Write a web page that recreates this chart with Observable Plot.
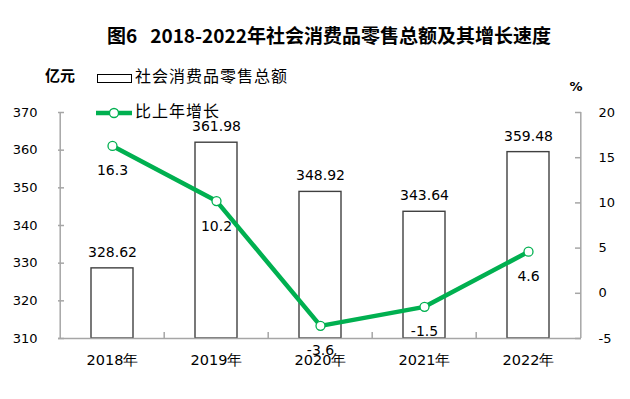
<!DOCTYPE html>
<html>
<head>
<meta charset="utf-8">
<script src="https://cdn.jsdelivr.net/npm/d3@7"></script>
<script src="https://cdn.jsdelivr.net/npm/@observablehq/plot@0.6"></script>
<style>
  html, body { margin: 0; padding: 0; background: #fff; }
</style>
</head>
<body>
<div id="chart"></div>
<script>
const years = ["2018年", "2019年", "2020年", "2021年", "2022年"];
const sales = [328.62, 361.98, 348.92, 343.64, 359.48];
const growth = [16.3, 10.2, -3.6, -1.5, 4.6];
const leftTicks = [310, 320, 330, 340, 350, 360, 370];
const rightTicks = [-5, 0, 5, 10, 15, 20];
const title = "图6   2018-2022年社会消费品零售总额及其增长速度";
const unitLeft = "亿元";
const unitRight = "%";
const legendBar = "社会消费品零售总额";
const legendLine = "比上年增长";

const leftDomain = [310, 370];
const rightDomain = [-5, 20];
const toLeft = g => leftDomain[0] + (g - rightDomain[0]) * (leftDomain[1] - leftDomain[0]) / (rightDomain[1] - rightDomain[0]);
const toRight = v => rightDomain[0] + (v - leftDomain[0]) * (rightDomain[1] - rightDomain[0]) / (leftDomain[1] - leftDomain[0]);

const data = years.map((year, i) => ({year, sales: sales[i], growth: growth[i], gy: toLeft(growth[i])}));

const W = 630, H = 399, mL = 58, mR = 49, mT = 112, mB = 61;
const fw = W - mL - mR, fh = H - mT - mB;
const step = fw / years.length;
const green = "#00b050";
const axisColor = "#a6a6a6";
const num = "DejaVu Sans";

const chart = Plot.plot({
  width: W, height: H,
  marginLeft: mL, marginRight: mR, marginTop: mT, marginBottom: mB,
  style: {fontFamily: num, fontSize: "13px", background: "#fff", color: "#000"},
  x: {type: "band", domain: years, paddingInner: 0.6, paddingOuter: 0.3, axis: null},
  y: {domain: leftDomain, axis: null},
  marks: [
    Plot.barY(data, {x: "year", y1: leftDomain[0], y2: "sales", fill: "#fff", stroke: "#404040", strokeWidth: 1.4}),
    // axis lines
    Plot.ruleY([leftDomain[0]], {stroke: axisColor, strokeWidth: 1.5}),
    Plot.ruleX([years[0]], {x: d => d, dx: -step / 2, stroke: axisColor, strokeWidth: 1.5}),
    Plot.ruleX([years[years.length - 1]], {x: d => d, dx: step / 2, stroke: axisColor, strokeWidth: 1.5}),
    // tick marks
    Plot.ruleY(leftTicks, {y: d => d, insetRight: fw - 6, stroke: axisColor, strokeWidth: 1.5}),
    Plot.ruleY(rightTicks.map(toLeft), {y: d => d, insetLeft: fw - 6, stroke: axisColor, strokeWidth: 1.5}),
    Plot.ruleX(years.slice(1), {x: d => d, dx: -step / 2, insetTop: fh - 6, stroke: axisColor, strokeWidth: 1.5}),
    // tick labels
    Plot.axisY(leftTicks, {anchor: "left", tickSize: 0, tickPadding: 21, fontSize: 13}),
    Plot.axisY(rightTicks.map(toLeft), {anchor: "right", tickSize: 0, tickPadding: 17, fontSize: 13, tickFormat: v => String(Math.round(toRight(v)))}),
    Plot.text(years, {x: d => d, text: d => d, frameAnchor: "bottom", dy: 26, fontSize: 14.5, fill: "#000"}),
    // line
    Plot.line(data, {x: "year", y: "gy", stroke: green, strokeWidth: 4.5}),
    Plot.dot(data, {x: "year", y: "gy", r: 4.5, fill: "#fff", stroke: green, strokeWidth: 1.3}),
    // labels
    Plot.text(data, {x: "year", y: "sales", text: d => d.sales.toFixed(2), dy: -16, fontSize: 14, fill: "#000"}),
    Plot.text(data, {x: "year", y: "gy", text: d => d.growth.toFixed(1), dy: 25, fontSize: 14, fill: "#000"})
  ]
});

document.getElementById("chart").appendChild(chart);

const svg = d3.select(chart);
const cjk = "'Noto Sans CJK SC', sans-serif";
svg.append("text").text(title)
  .attr("x", 329).attr("y", 38)
  .attr("text-anchor", "middle").attr("dominant-baseline", "middle")
  .attr("font-family", cjk).attr("font-weight", "bold").attr("font-size", 19)
  .attr("xml:space", "preserve").style("white-space", "pre").attr("fill", "#000");
svg.append("text").text(unitLeft)
  .attr("x", 60).attr("y", 77).attr("text-anchor", "middle").attr("dominant-baseline", "middle")
  .attr("font-family", cjk).attr("font-weight", "bold").attr("font-size", 15).attr("fill", "#000");
svg.append("text").text(unitRight)
  .attr("x", 576).attr("y", 87).attr("text-anchor", "middle").attr("dominant-baseline", "middle")
  .attr("font-family", num).attr("font-weight", "bold").attr("font-size", 13).attr("fill", "#000");
// legend: bar
svg.append("rect").attr("x", 97.5).attr("y", 74.5).attr("width", 34).attr("height", 8)
  .attr("fill", "#fff").attr("stroke", "#000").attr("stroke-width", 1);
svg.append("text").text(legendBar)
  .attr("x", 135).attr("y", 78).attr("text-anchor", "start").attr("dominant-baseline", "middle")
  .attr("font-family", cjk).attr("font-size", 16).attr("letter-spacing", 1).attr("fill", "#000");
// legend: line
svg.append("line").attr("x1", 96).attr("x2", 132).attr("y1", 113).attr("y2", 113)
  .attr("stroke", green).attr("stroke-width", 4.5);
svg.append("circle").attr("cx", 114).attr("cy", 113).attr("r", 4.5)
  .attr("fill", "#fff").attr("stroke", green).attr("stroke-width", 1.3);
svg.append("text").text(legendLine)
  .attr("x", 135).attr("y", 113).attr("text-anchor", "start").attr("dominant-baseline", "middle")
  .attr("font-family", cjk).attr("font-size", 16).attr("letter-spacing", 1).attr("fill", "#000");
</script>
</body>
</html>
